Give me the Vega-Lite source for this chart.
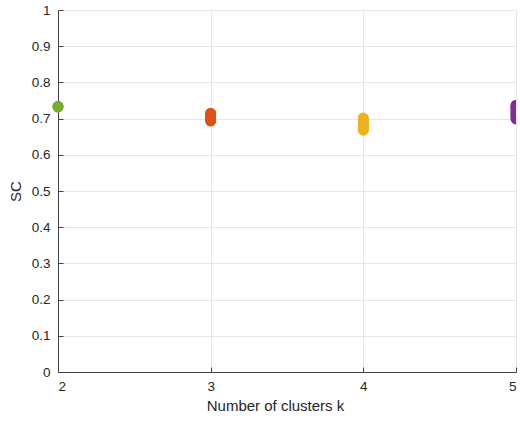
{
  "$schema": "https://vega.github.io/schema/vega-lite/v6.json",
  "width": 458,
  "height": 362,
  "autosize": "none",
  "padding": {"left": 58, "top": 10, "right": 4, "bottom": 51},
  "background": "white",
  "config": {
    "view": {"stroke": null},
    "font": "Liberation Sans",
    "axis": {
      "labelFont": "Liberation Sans",
      "titleFont": "Liberation Sans",
      "labelFontSize": 13.5,
      "titleFontSize": 15,
      "titleFontWeight": "normal",
      "labelColor": "#262626",
      "titleColor": "#262626",
      "domainColor": "#404040",
      "tickColor": "#404040",
      "gridColor": "#e6e6e6",
      "gridWidth": 1,
      "tickSize": -5
    }
  },
  "data": {
    "values": [
      {"k": 2, "sc": 0.732, "g": "2"},
      {"k": 2, "sc": 0.733, "g": "2"},
      {"k": 2, "sc": 0.734, "g": "2"},
      {"k": 3, "sc": 0.693, "g": "3"},
      {"k": 3, "sc": 0.696, "g": "3"},
      {"k": 3, "sc": 0.699, "g": "3"},
      {"k": 3, "sc": 0.702, "g": "3"},
      {"k": 3, "sc": 0.705, "g": "3"},
      {"k": 3, "sc": 0.708, "g": "3"},
      {"k": 3, "sc": 0.711, "g": "3"},
      {"k": 3, "sc": 0.713, "g": "3"},
      {"k": 3, "sc": 0.715, "g": "3"},
      {"k": 4, "sc": 0.668, "g": "4"},
      {"k": 4, "sc": 0.672, "g": "4"},
      {"k": 4, "sc": 0.676, "g": "4"},
      {"k": 4, "sc": 0.680, "g": "4"},
      {"k": 4, "sc": 0.685, "g": "4"},
      {"k": 4, "sc": 0.690, "g": "4"},
      {"k": 4, "sc": 0.694, "g": "4"},
      {"k": 4, "sc": 0.698, "g": "4"},
      {"k": 4, "sc": 0.702, "g": "4"},
      {"k": 5, "sc": 0.699, "g": "5"},
      {"k": 5, "sc": 0.704, "g": "5"},
      {"k": 5, "sc": 0.709, "g": "5"},
      {"k": 5, "sc": 0.714, "g": "5"},
      {"k": 5, "sc": 0.719, "g": "5"},
      {"k": 5, "sc": 0.724, "g": "5"},
      {"k": 5, "sc": 0.729, "g": "5"},
      {"k": 5, "sc": 0.733, "g": "5"},
      {"k": 5, "sc": 0.737, "g": "5"}
    ]
  },
  "encoding": {
    "x": {
      "field": "k", "type": "quantitative",
      "scale": {"domain": [2, 5], "nice": false, "zero": false},
      "axis": {"values": [2, 3, 4, 5], "format": "d", "title": "Number of clusters k", "labelPadding": 12, "titlePadding": 6, "titleX": 217}
    },
    "y": {
      "field": "sc", "type": "quantitative",
      "scale": {"domain": [0, 1], "nice": false},
      "axis": {"values": [0, 0.1, 0.2, 0.3, 0.4, 0.5, 0.6, 0.7, 0.8, 0.9, 1], "format": "~g", "title": "SC", "labelPadding": 13, "titlePadding": 8}
    },
    "color": {
      "field": "g", "type": "nominal",
      "scale": {"domain": ["2", "3", "4", "5"], "range": ["#77AC30", "#D95319", "#EDB120", "#7E2F8E"]},
      "legend": null
    }
  },
  "layer": [
    {
      "transform": [{"filter": "datum.k < 5"}],
      "mark": {"type": "point", "filled": true, "opacity": 1, "size": 120, "shape": "circle"}
    },
    {
      "transform": [{"filter": "datum.k == 5"}],
      "mark": {"type": "point", "filled": true, "opacity": 1, "size": 120, "shape": "circle", "clip": true}
    }
  ]
}
